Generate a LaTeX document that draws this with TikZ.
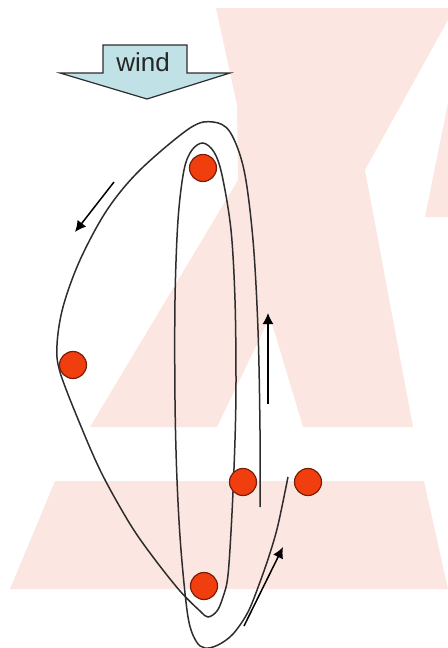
\documentclass[tikz,border=0pt]{standalone}
\usepackage{fontspec}
\setsansfont{Liberation Sans}
\usetikzlibrary{arrows.meta}

\definecolor{wmpink}{RGB}{252,230,225}
\definecolor{windblue}{RGB}{192,225,230}
\definecolor{dotred}{RGB}{240,62,14}
\definecolor{dotedge}{RGB}{120,30,10}
\definecolor{linegray}{RGB}{45,45,45}

\begin{document}
\begin{tikzpicture}[x=0.5pt,y=-0.5pt,
  dot/.style={circle,fill=dotred,draw=dotedge,line width=0.6pt,minimum size=13.5pt,inner sep=0pt},
  track/.style={linegray,line width=0.75pt},
  flow/.style={black,line width=0.75pt,-{Latex[length=5.5pt,width=5.5pt]}}]

\useasboundingbox (0,0) rectangle (448,648);

% Watermark in the background
\fill[wmpink] (216,8) -- (448,8) -- (448,20) -- (365,170) -- (413,427) -- (303,427)
  -- (270,317) -- (217,427) -- (90,427) -- (238,180) -- (237,105) -- cycle;
\fill[wmpink] (448,103) -- (425,217) -- (448,217) -- cycle;
\fill[wmpink] (55,481) -- (424,481) -- (448,589) -- (10,589) -- cycle;

% Wind arrow
\draw[fill=windblue,draw=linegray,line width=0.6pt] (103,45) -- (187,45) -- (187,73)
  -- (230,73) -- (147,99) -- (60,73) -- (103,73) -- cycle;
\node[font=\sffamily\fontsize{13}{13}\selectfont,text=black!85] (wind) at (143,62) {wind};

% Path of the spiral
\draw[track] plot[smooth,tension=0.55] coordinates {
  (260,507) (260,430) (258,330) (253,240) (244,170) (230,132) (213,122)
  (190,128) (140,170) (107,210) (80,260) (63,307) (57,345) (60,372)
  (80,424) (102,474) (130,524) (153,557) (180,591) (200,611) (208,617)
  (217,611) (223,597) (228,575) (232,513) (235,440) (236,380) (235,300)
  (231,230) (222,175) (214,152) (203,143) (192,150) (184,170) (178,220)
  (175,300) (175,400) (177,480) (181,550) (188,617) (196,641) (205,648)
  (218,645) (233,634) (248,612) (260,582) (270,553) (278,525) (288,477)};

% Direction arrows
\draw[flow] (114,182) -- (75,232);
\draw[flow] (268,404) -- (268,313);
\draw[flow] (244,626) -- (283,547);

% Positions
\node[dot] (top) at (203,168) {};
\node[dot] (left) at (73,365) {};
\node[dot] (mid) at (243,482) {};
\node[dot] (right) at (308,482) {};
\node[dot] (bottom) at (204,586) {};

\end{tikzpicture}
\end{document}
